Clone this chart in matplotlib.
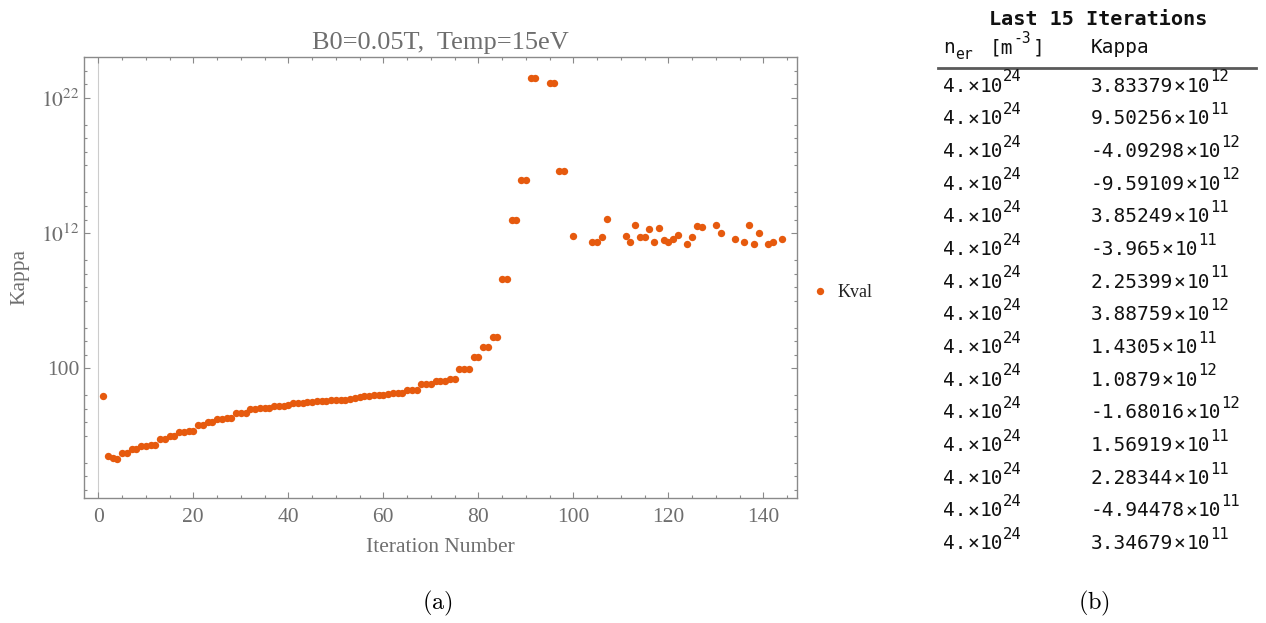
import numpy as np
import matplotlib
matplotlib.use("Agg")
import matplotlib.pyplot as plt
from matplotlib.ticker import FixedLocator, FixedFormatter, MultipleLocator
import matplotlib.transforms as mtransforms
from matplotlib.lines import Line2D

plt.rcParams['font.family'] = ['Liberation Serif', 'DejaVu Serif']
plt.rcParams['mathtext.fontset'] = 'stix'

# ---------------- data ----------------
nan = np.nan
iterations = list(range(1, 145))

# Kval for iterations 1..129 (nan = not shown, i.e. non-positive)
kappa_early = [
    0.95, 3.0e-5, 2.1e-5, 2.0e-5, 5.2e-5, 5.3e-5, 1.0e-4, 1.0e-4, 1.8e-4, 1.8e-4,      # 1-10
    2.0e-4, 2.0e-4, 6.0e-4, 6.0e-4, 1.05e-3, 1.05e-3, 1.85e-3, 1.85e-3, 2.1e-3, 2.1e-3,  # 11-20
    5.8e-3, 5.8e-3, 1.0e-2, 1.0e-2, 1.8e-2, 1.8e-2, 2.0e-2, 2.0e-2, 5.0e-2, 5.0e-2,   # 21-30
    5.0e-2, 0.10, 0.10, 0.11, 0.11, 0.11, 0.155, 0.155, 0.17, 0.19,                  # 31-40
    0.26, 0.29, 0.29, 0.32, 0.32, 0.36, 0.36, 0.39, 0.41, 0.46,                      # 41-50
    0.48, 0.48, 0.57, 0.68, 0.72, 0.81, 0.95, 1.0, 1.07, 1.13,                       # 51-60
    1.2, 1.35, 1.4, 1.4, 2.6, 2.6, 2.6, 6.6, 6.6, 6.6,                               # 61-70
    11.0, 11.0, 11.0, 15.5, 15.5, 95.0, 95.0, 95.0, 650.0, 650.0,                    # 71-80
    3.6e3, 3.6e3, 2.2e4, 2.2e4, 4.0e8, 4.0e8, 9.1e12, 9.1e12, 7.8e15, 7.8e15,        # 81-90
    2.8e23, 2.8e23, nan, nan, 1.35e23, 1.35e23, 3.6e16, 3.6e16, nan, 5.6e11,         # 91-100
    nan, nan, nan, 2.3e11, 2.3e11, 4.8e11, 1.07e13, nan, nan, nan,                   # 101-110
    5.6e11, 2.3e11, 3.9e12, 4.8e11, 4.8e11, 1.86e12, 2.3e11, 2.2e12, 3.0e11, 2.3e11, # 111-120
    3.6e11, 6.8e11, nan, 1.6e11, 4.8e11, 3.3e12, 2.6e12, nan, nan,                   # 121-129
]

# table: last 15 iterations (130..144)
table_title = "Last 15 Iterations"
ner_mantissa = ["4."] * 15
ner_exponent = ["24"] * 15
kappa_mantissa = ["3.83379", "9.50256", "-4.09298", "-9.59109", "3.85249",
                  "-3.965", "2.25399", "3.88759", "1.4305", "1.0879",
                  "-1.68016", "1.56919", "2.28344", "-4.94478", "3.34679"]
kappa_exponent = ["12", "11", "12", "12", "11", "11", "11", "12", "11", "12",
                  "12", "11", "11", "11", "11"]
kappa_last15 = [float(m + "e" + e) for m, e in zip(kappa_mantissa, kappa_exponent)]

kappa = np.array(kappa_early + kappa_last15, dtype=float)
kappa_plot = np.where(kappa > 0, kappa, np.nan)

ytick_vals = [1e2, 1e12, 1e22]
ytick_labels = ["100", r"$10^{12}$", r"$10^{22}$"]
xtick_vals = [0, 20, 40, 60, 80, 100, 120, 140]

# ---------------- figure ----------------
W, H = 1266, 623
fig = plt.figure(figsize=(W / 100, H / 100), dpi=100)

def fx(x):
    return x / W

def fy(y):
    return 1 - y / H

L, R, T, B = 84, 796.7, 57.3, 498
ax = fig.add_axes([fx(L), fy(B), (R - L) / W, (B - T) / H])

dot_color = "#E65A0E"
frame_col = "#8a8a8a"
lab_col = "#6e6e6e"

ax.axvline(0, color="#cccccc", lw=0.8, zorder=0)
ax.plot(iterations, kappa_plot, "o", color=dot_color, markersize=5.3,
        markeredgewidth=0, label="Kval", zorder=3)

ax.set_yscale("log")
ax.set_xlim(-3, 147)
ax.set_ylim(10.0 ** -7.6, 1e25)

ax.xaxis.set_major_locator(FixedLocator(xtick_vals))
ax.xaxis.set_minor_locator(MultipleLocator(5))
ax.yaxis.set_major_locator(FixedLocator(ytick_vals))
ax.yaxis.set_major_formatter(FixedFormatter(ytick_labels))
minor_y = [10.0 ** k for k in range(-7, 25) if k not in (2, 12, 22) and (k - 1) % 5 != 0]
ax.yaxis.set_minor_locator(FixedLocator(minor_y))
ax.yaxis.set_minor_formatter(FixedFormatter([""] * len(minor_y)))

for s in ax.spines.values():
    s.set_color(frame_col)
    s.set_linewidth(1.0)

ax.tick_params(which="both", direction="in", top=True, right=True,
               color=frame_col, width=0.8, labelcolor=lab_col, labelsize=15.5)
ax.tick_params(which="major", length=4.2)
ax.tick_params(which="minor", length=2.3)
ax.tick_params(axis="x", which="major", pad=7)
ax.tick_params(axis="y", which="major", pad=3)

# title and axis labels
fig.text(fx(440), fy(49.5), "B0=0.05T,  Temp=15eV", ha="center", va="baseline",
         fontsize=19, color=lab_col)
fig.text(fx(20), fy(277), "Kappa", rotation=90, ha="center", va="center",
         fontsize=15.5, color=lab_col)
fig.text(fx(440), fy(548), "Iteration Number", ha="center", va="center",
         fontsize=15.5, color=lab_col)

# legend
ax.legend(loc="center left", bbox_to_anchor=(fx(811), fy(292.7)),
          bbox_transform=fig.transFigure, frameon=False, fontsize=13,
          handlelength=1.0, handletextpad=0.45, borderpad=0, borderaxespad=0,
          labelcolor="#222222")

# captions
fig.text(fx(437), fy(603), r"$\mathrm{(a)}$", ha="center", va="center",
         fontsize=17.5, math_fontfamily="cm", color="black")
fig.text(fx(1094), fy(603), r"$\mathrm{(b)}$", ha="center", va="center",
         fontsize=17.5, math_fontfamily="cm", color="black")

# ---------------- table ----------------
mono = "DejaVu Sans Mono"
fs_main = 14.0
fs_small = 11.2
cw_main = 0.602 * fs_main   # char advance in points
cw_small = 0.602 * fs_small
times_gap = 0.6             # extra points around the multiplication sign

def ttext(x, y, s, dx=0.0, dy=0.0, size=fs_main, weight="normal", ha="left"):
    tr = mtransforms.offset_copy(fig.transFigure, fig=fig, x=dx, y=dy, units="points")
    fig.text(fx(x), fy(y), s, transform=tr, ha=ha, va="baseline", family=mono,
             fontsize=size, weight=weight, color="#111111")

def sci(x, y, mant, expo):
    n = len(mant)
    ttext(x, y, mant)
    ttext(x, y, "\u00d7", dx=n * cw_main + times_gap)
    ttext(x, y, "10", dx=(n + 1) * cw_main + 2 * times_gap)
    ttext(x, y, expo, dx=(n + 3) * cw_main + 2 * times_gap, dy=7.3, size=fs_small)

ttext(1098, 25, table_title, size=14.5, weight="bold", ha="center")

# header
hb = 53.3
ttext(943, hb, "n")
ttext(943, hb, "er", dx=cw_main, dy=-4.0, size=fs_small * 0.95)
ttext(990, hb, "[m")
ttext(990, hb, "-3", dx=2 * cw_main, dy=7.3, size=fs_small * 0.95)
ttext(990, hb, "]", dx=2 * cw_main + 2 * cw_small * 0.95 + 1.0)
ttext(1091, hb, "Kappa")
fig.add_artist(Line2D([fx(938), fx(1256)], [fy(68), fy(68)], transform=fig.transFigure,
                      color="#5a5a5a", lw=2.0))

row0 = 91.5
row_step = 32.68
for k in range(15):
    yb = row0 + k * row_step
    sci(943, yb, ner_mantissa[k], ner_exponent[k])
    sci(1091, yb, kappa_mantissa[k], kappa_exponent[k])

fig.savefig("out.png", dpi=100)
